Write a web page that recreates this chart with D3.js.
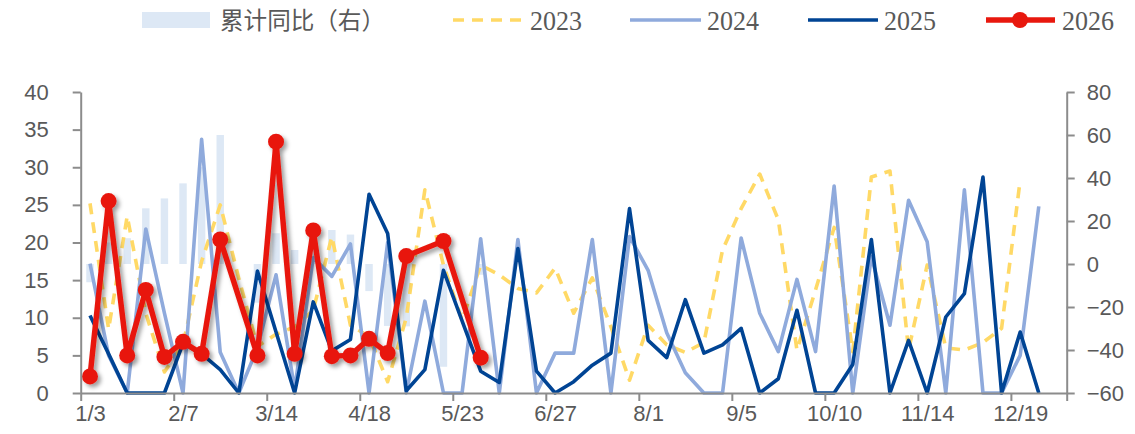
<!DOCTYPE html>
<html><head><meta charset="utf-8">
<script src="https://cdn.jsdelivr.net/npm/d3@7"></script>
<style>
html,body{margin:0;padding:0;background:#fff;}
svg{display:block;}
</style></head>
<body>
<svg id="chart" width="1135" height="434"></svg>
<script>
// ---------------- DATA ----------------
const categories = ["1/3","1/10","1/17","1/24","1/31","2/7","2/14","2/21","2/28","3/7","3/14","3/21","3/28","4/4","4/11","4/18","4/25","5/2","5/9","5/16","5/23","5/30","6/6","6/13","6/20","6/27","7/4","7/11","7/18","7/25","8/1","8/8","8/15","8/22","8/29","9/5","9/12","9/19","9/26","10/3","10/10","10/17","10/24","10/31","11/7","11/14","11/21","11/28","12/5","12/12","12/19","12/26","1/2"];
const tickLabels = ["1/3","2/7","3/14","4/18","5/23","6/27","8/1","9/5","10/10","11/14","12/19"];
const leftTicks = [0,5,10,15,20,25,30,35,40];
const rightTicks = [-60,-40,-20,0,20,40,60,80];
const seriesNames = ["累计同比（右）","2023","2024","2025","2026"];

const cumYoY = [-8.5,10,12,25.9,30.5,37.5,45,60,null,-18,14.3,6.5,17,15.8,13.7,-12.6,-28.8,-29,null,-47.8,null,-5];
const y2023 = [25.2,8.5,23.5,10.6,2.8,6.5,17.5,25.0,15.2,6.2,7.8,8.8,11.0,20.8,9.0,7.5,1.5,10.0,27.0,17.0,9.7,17.0,15.7,13.9,13.3,16.6,10.6,15.3,8.8,1.7,9.0,6.4,5.4,6.7,19.0,24.5,29.1,23.0,5.7,13.7,22.0,5.5,28.7,29.5,5.7,17.0,6.0,5.7,6.7,8.6,28.3,null,null];
const y2024 = [17.2,5.0,0,21.8,10.6,0,33.7,5.4,0,6.0,15.7,0.5,18.0,15.5,19.8,0,20.0,0,12.2,0,0,20.5,0,20.4,0,5.3,5.3,20.4,0,20.8,16.3,8.0,2.7,0,0,20.6,10.6,5.5,15.1,5.5,27.5,0,18.1,9.0,25.6,20.1,0,27.0,0,0,5.0,24.8,null];
const y2025 = [10.3,5.2,0,0,0,6.6,5.2,3.1,0,16.2,8.1,0,12.1,5.6,7.1,26.4,21.2,0.3,3.1,16.3,9.6,2.9,1.4,19.2,2.9,0,1.5,3.7,5.3,24.5,7.0,4.7,12.4,5.3,6.4,8.6,0,1.9,11.0,0,0,3.8,20.4,0,7.0,0,10.1,13.2,28.7,0,8.1,0,null];
const y2026 = [2.2,25.5,5.0,13.7,4.8,6.8,5.2,20.4,null,5.0,33.4,5.2,21.6,4.9,5.0,7.2,5.3,18.2,null,20.2,null,4.7];

// ---------------- LAYOUT ----------------
const svg = d3.select("#chart");
const X0 = 80.7, X1 = 1066.7, YT = 92, YB = 393;
const xb = d3.scaleLinear().domain([0, categories.length]).range([X0, X1]);
const xc = i => xb(i + 0.5);
const yL = d3.scaleLinear().domain([0, 40]).range([YB, YT]);
const yR = d3.scaleLinear().domain([-60, 80]).range([YB, YT]);
const bw = (xb(1) - xb(0)) * 0.4;

const C = {bar:"#DDE8F5", y23:"#FFD966", y24:"#8FAADC", y25:"#004494", y26:"#E8180E", axis:"#8C8C8C", text:"#595959"};

const defs = svg.append("defs");
const f = defs.append("filter").attr("id","shadow").attr("x","-20%").attr("y","-20%").attr("width","140%").attr("height","140%");
f.append("feDropShadow").attr("dx",3).attr("dy",3).attr("stdDeviation",2.2).attr("flood-color","#000").attr("flood-opacity",0.38);

// bars (right axis)
svg.append("g").selectAll("rect")
  .data(cumYoY.map((v,i)=>({v,i})).filter(d=>d.v!=null))
  .join("rect")
  .attr("x", d => xc(d.i) - bw/2)
  .attr("width", bw)
  .attr("y", d => Math.min(yR(d.v), yR(0)))
  .attr("height", d => Math.abs(yR(d.v) - yR(0)))
  .attr("fill", C.bar);

function pts(arr){ return arr.map((v,i)=>({v,i})).filter(d=>d.v!=null); }
const line = d3.line().x(d=>xc(d.i)).y(d=>yL(d.v));

svg.append("path").datum(pts(y2023)).attr("d",line).attr("fill","none")
  .attr("stroke",C.y23).attr("stroke-width",3.6).attr("stroke-dasharray","11,8").attr("stroke-linejoin","round");
svg.append("path").datum(pts(y2024)).attr("d",line).attr("fill","none")
  .attr("stroke",C.y24).attr("stroke-width",3.6).attr("stroke-linejoin","round");
svg.append("path").datum(pts(y2025)).attr("d",line).attr("fill","none")
  .attr("stroke",C.y25).attr("stroke-width",3.6).attr("stroke-linejoin","round");

const g26 = svg.append("g").attr("filter","url(#shadow)");
g26.append("path").datum(pts(y2026)).attr("d",line).attr("fill","none")
  .attr("stroke",C.y26).attr("stroke-width",5.5).attr("stroke-linejoin","round");
g26.selectAll("circle").data(pts(y2026)).join("circle")
  .attr("cx",d=>xc(d.i)).attr("cy",d=>yL(d.v)).attr("r",8).attr("fill",C.y26);

// axes
function styleAxis(g){
  g.select(".domain").attr("stroke",C.axis).attr("stroke-width",2);
  g.selectAll(".tick line").attr("stroke",C.axis).attr("stroke-width",2);
  g.selectAll("text").attr("fill",C.text);
}
svg.append("g").attr("transform",`translate(${X0},0)`)
  .call(d3.axisLeft(yL).tickValues(leftTicks).tickSize(8).tickSizeOuter(0).tickPadding(24))
  .call(styleAxis)
  .selectAll("text").attr("font-family","'Liberation Sans',Arial,sans-serif").attr("font-size",22);
svg.append("g").attr("transform",`translate(${X1},0)`)
  .call(d3.axisRight(yR).tickValues(rightTicks).tickSize(8).tickSizeOuter(0).tickPadding(12))
  .call(styleAxis)
  .selectAll("text").attr("font-family","'Liberation Sans',Arial,sans-serif").attr("font-size",22);

const tickIdx = tickLabels.map(t => categories.indexOf(t));
svg.append("g").attr("transform",`translate(0,${YB})`)
  .call(d3.axisBottom(xb).tickValues(tickIdx.concat([categories.length])).tickFormat("").tickSize(8).tickSizeOuter(0))
  .call(styleAxis);
const lab = svg.append("g").attr("transform",`translate(0,${YB})`)
  .call(d3.axisBottom(xb).tickValues(tickIdx.map(i=>i+0.5)).tickFormat((d,k)=>tickLabels[k]).tickSize(0).tickPadding(12));
lab.select(".domain").remove();
lab.selectAll("text").attr("fill",C.text).attr("font-family","'Liberation Sans Narrow','Liberation Sans',Arial,sans-serif").attr("font-size",22);

// legend
const lg = svg.append("g").attr("font-family","'Liberation Serif','Times New Roman',serif").attr("fill",C.text);
const LY = 20;
lg.append("rect").attr("x",142).attr("y",12).attr("width",68).attr("height",16).attr("fill",C.bar);
lg.append("text").attr("x",220).attr("y",LY).attr("dy","0.36em").attr("font-size",24)
  .attr("font-family","'Noto Sans CJK SC',sans-serif").attr("textLength",165).attr("lengthAdjust","spacingAndGlyphs").attr("fill",C.text).text(seriesNames[0]);
lg.append("line").attr("x1",453).attr("x2",522).attr("y1",LY).attr("y2",LY).attr("stroke",C.y23).attr("stroke-width",3.6).attr("stroke-dasharray","11,8");
lg.append("line").attr("x1",630).attr("x2",701).attr("y1",LY).attr("y2",LY).attr("stroke",C.y24).attr("stroke-width",3.6);
lg.append("line").attr("x1",808).attr("x2",878).attr("y1",LY).attr("y2",LY).attr("stroke",C.y25).attr("stroke-width",3.6);
lg.append("line").attr("x1",986).attr("x2",1055).attr("y1",LY).attr("y2",LY).attr("stroke",C.y26).attr("stroke-width",5.5);
lg.append("circle").attr("cx",1020).attr("cy",LY).attr("r",8).attr("fill",C.y26);
[[530,seriesNames[1]],[707,seriesNames[2]],[884,seriesNames[3]],[1062,seriesNames[4]]].forEach(([x,t])=>{
  lg.append("text").attr("x",x).attr("y",LY).attr("dy","0.36em").attr("font-size",28)
    .attr("textLength",52).attr("lengthAdjust","spacingAndGlyphs").attr("fill",C.text).text(t);
});
</script>
</body></html>
